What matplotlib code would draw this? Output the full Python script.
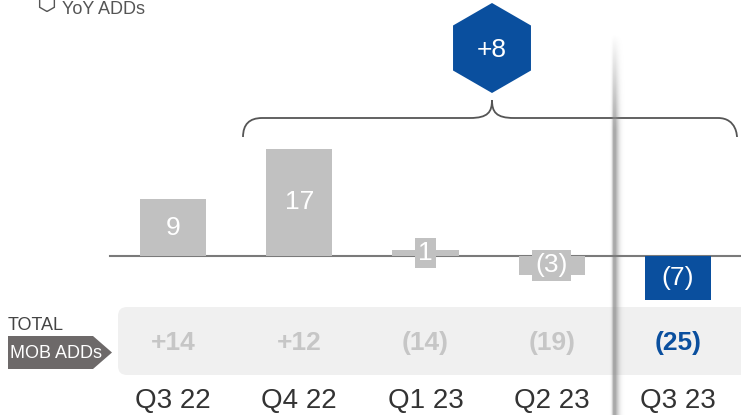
import numpy as np
import matplotlib
matplotlib.use("Agg")
import matplotlib.pyplot as plt
from matplotlib import patches, transforms
from matplotlib.path import Path

quarters = ["Q3 22", "Q4 22", "Q1 23", "Q2 23", "Q3 23"]
yoy_adds = [9, 17, 1, -3, -7]
yoy_labels = ["9", "17", "1", "(3)", "(7)"]
total_labels = ["+14", "+12", "(14)", "(19)", "(25)"]
change_label = "+8"

GRAY = "#c1c1c1"
BLUE = "#0a4f9e"
plt.rcParams["font.family"] = ["Liberation Sans", "DejaVu Sans"]

W, H = 741, 415
fig = plt.figure(figsize=(W / 100, H / 100), dpi=100, facecolor="white")

# pixel-space axes for decorations
deco = fig.add_axes([0, 0, 1, 1])
deco.set_xlim(0, W)
deco.set_ylim(H, 0)
deco.axis("off")

# data axes for the bars, aligned to the decoration layout
ax = fig.add_axes([0, 0, 1, 1], facecolor="none")
x0, step, base, ppu = 173, 126.25, 256, 6.3
ax.set_xlim(-x0 / step, (W - x0) / step)
ax.set_ylim(-(H - base) / ppu, base / ppu)
ax.axis("off")

colors = [GRAY] * (len(quarters) - 1) + [BLUE]
xs = np.arange(len(quarters))
ax.bar(xs, yoy_adds, width=0.523, color=colors, zorder=3)
ax.axhline(0, xmin=110 / W, xmax=1, color="#7a7a7a", lw=1.5, zorder=2)

for x, v, lab, c in zip(xs, yoy_adds, yoy_labels, colors):
    ax.text(x, v / 2, lab, ha="center", va="center", color="white", fontsize=19,
            zorder=4, bbox=dict(boxstyle="square,pad=0.12", fc=c, ec="none"))

# totals band
band = patches.FancyBboxPatch((118, 307), 640, 68, boxstyle="round,pad=0,rounding_size=9",
                              fc="#f0f0f0", ec="none", zorder=1)
deco.add_patch(band)

mix = transforms.blended_transform_factory(ax.transData, deco.transData)
for x, lab, c in zip(xs, total_labels, ["#c6c6c6"] * 4 + [BLUE]):
    ax.text(x, 343, lab, transform=mix, ha="center", va="center", fontsize=19,
            fontweight="bold", color=c, zorder=4)
for x, q in zip(xs, quarters):
    ax.text(x, 408, q, transform=mix, ha="center", va="baseline", fontsize=20,
            color="#333333", zorder=4)

# row label
deco.text(8, 325, "TOTAL", ha="left", va="center", fontsize=13, color="#444444")
arrow = patches.Polygon([(8, 336), (93, 336), (112, 352.5), (93, 369), (8, 369)],
                        closed=True, fc="#6d6969", ec="none")
deco.add_patch(arrow)
deco.text(10, 353, "MOB ADDs", ha="left", va="center", fontsize=13, color="white")

# legend
deco.add_patch(patches.RegularPolygon((47, 3), 6, radius=8.5, fc="none", ec="#555555", lw=1))
deco.text(62, 9, "YoY ADDs", ha="left", va="center", fontsize=13, color="#555555")

# bracket
verts = [(243, 137), (243, 118), (262, 118),
         (470, 118),
         (488, 118), (492, 112), (492, 100),
         (492, 112), (496, 118), (514, 118),
         (718, 118),
         (737, 118), (737, 137), (737, 137)]
codes = [Path.MOVETO, Path.CURVE3, Path.CURVE3,
         Path.LINETO,
         Path.CURVE4, Path.CURVE4, Path.CURVE4,
         Path.CURVE4, Path.CURVE4, Path.CURVE4,
         Path.LINETO,
         Path.CURVE4, Path.CURVE4, Path.CURVE4]
deco.add_patch(patches.PathPatch(Path(verts, codes), fc="none", ec="#555555", lw=1.3))

# hexagon callout
deco.add_patch(patches.RegularPolygon((492, 48), 6, radius=45, fc=BLUE, ec="none", zorder=5))
deco.text(492, 50, change_label, ha="center", va="center", fontsize=19, color="white", zorder=6)

# vertical shadow divider
gx = np.linspace(-10, 14, 48)
prof = np.where(gx < 0, np.exp(-(gx / 2.0) ** 2), np.exp(-(gx / 5.0) ** 2))
prof[(gx > -1.2) & (gx < 1.8)] = 1.0
gy = np.linspace(0, 1, 200)
vert = np.clip(gy / 0.25, 0, 1)
img = np.zeros((200, 48, 4))
img[..., :3] = 0.55
img[..., 3] = np.outer(vert, prof) * 0.75
deco.imshow(img, extent=[604, 628, 415, 35], aspect="auto", zorder=2.5, interpolation="bilinear")
deco.set_xlim(0, W)
deco.set_ylim(H, 0)

fig.savefig("out.png", dpi=100, facecolor="white")
